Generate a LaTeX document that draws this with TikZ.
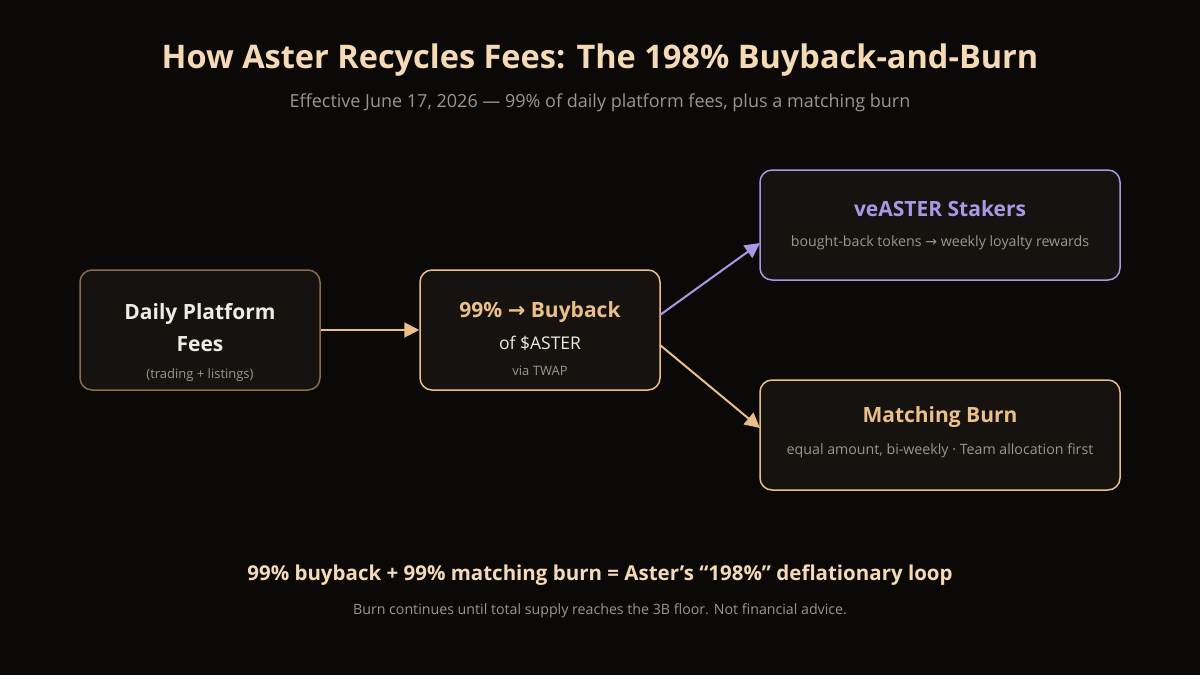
\documentclass[tikz,border=0pt]{standalone}
\usepackage{fontspec}
\setmainfont{Open Sans}
\newfontfamily\arr{DejaVu Sans}
\usetikzlibrary{arrows.meta}
\definecolor{bg}{HTML}{0A0908}
\definecolor{boxfill}{HTML}{16120F}
\definecolor{peach}{HTML}{F6DAB6}
\definecolor{tan}{HTML}{EBC088}
\definecolor{darktan}{HTML}{8C6C48}
\definecolor{lav}{HTML}{A898E6}
\definecolor{greytxt}{HTML}{9A9690}
\definecolor{softwhite}{HTML}{EEEAE4}
\tikzset{
  x=1pt,y=-1pt,
  box/.style={draw, line width=1.5pt, fill=boxfill, rounded corners=12pt, inner sep=0pt},
  head/.style={font=\fontsize{21}{24}\selectfont\bfseries},
  small/.style={font=\fontsize{13}{15}\selectfont, text=greytxt},
  smallw/.style={font=\fontsize{14.2}{16}\selectfont, text=greytxt},
  flow/.style={line width=2pt, -{Triangle[length=15pt,width=15pt]}},
}
\begin{document}
\begin{tikzpicture}
\fill[bg] (0,0) rectangle (1200,675);
\useasboundingbox (0,0) rectangle (1200,675);
% title
\node[text=peach, font=\fontsize{32.5}{38}\selectfont\bfseries] (title) at (600,60) {How Aster Recycles Fees: The 198\% Buyback-and-Burn};
\node[text=greytxt, font=\fontsize{18}{21}\selectfont] (sub) at (600,103) {Effective June 17, 2026 — 99\% of daily platform fees, plus a matching burn};
% boxes
\node[box, draw=darktan, minimum width=240pt, minimum height=120pt] (fees) at (200,330) {};
\node[box, draw=tan, minimum width=240pt, minimum height=120pt] (buy) at (540,330) {};
\node[box, draw=lav, minimum width=360pt, minimum height=110pt] (stake) at (940,225) {};
\node[box, draw=tan, minimum width=360pt, minimum height=110pt] (burn) at (940,435) {};
% box texts
\node[head, text=softwhite] (fees1) at (200,314) {Daily Platform};
\node[head, text=softwhite] (fees2) at (200,344) {Fees};
\node[small] (fees3) at (200,375) {(trading + listings)};
\node[head, text=tan] (buy1) at (540,312) {99\% {\arr\fontsize{21}{24}\selectfont →} Buyback};
\node[text=softwhite, font=\fontsize{17.5}{20}\selectfont] (buy2) at (540,343) {of \$ASTER};
\node[small] (buy3) at (540,371) {via TWAP};
\node[head, text=lav] (stake1) at (940,209) {veASTER Stakers};
\node[smallw] (stake2) at (940,243) {bought-back tokens {\arr\fontsize{14}{16}\selectfont →} weekly loyalty rewards};
\node[head, text=tan] (burn1) at (940,417) {Matching Burn};
\node[smallw] (burn2) at (940,451) {equal amount, bi-weekly · Team allocation first};
% arrows
\draw[flow, tan] (fees.east) -- (buy.west);
\coordinate (s1) at (660,315);
\coordinate (e1) at (760,243);
\coordinate (s2) at (660,345);
\coordinate (e2) at (760,428);
\draw[flow, lav] (s1) -- (e1);
\draw[flow, tan] (s2) -- (e2);
% bottom
\node[text=peach, font=\fontsize{20.5}{24}\selectfont\bfseries] (sum) at (600,575) {99\% buyback + 99\% matching burn = Aster’s “198\%” deflationary loop};
\node[smallw] (foot) at (600,611) {Burn continues until total supply reaches the 3B floor. Not financial advice.};
\end{tikzpicture}
\end{document}
